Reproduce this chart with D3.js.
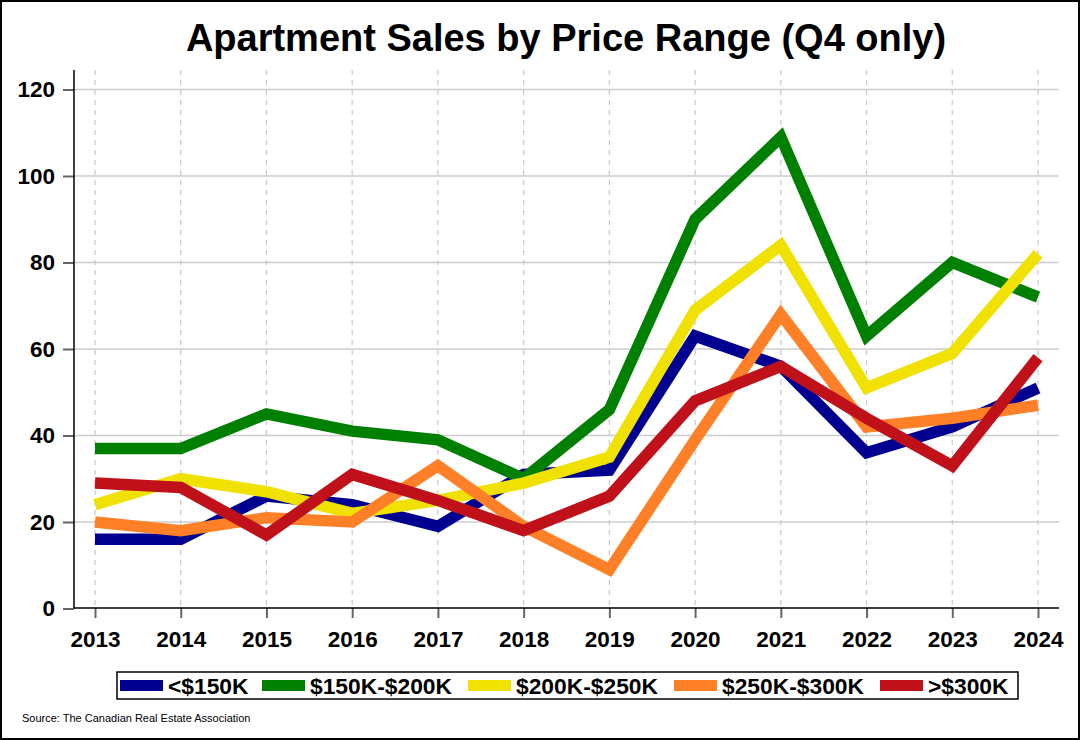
<!DOCTYPE html>
<html>
<head>
<meta charset="utf-8">
<script src="https://cdn.jsdelivr.net/npm/d3@7"></script>
<style>
  html, body { margin: 0; padding: 0; background: #fff; }
  svg { display: block; font-family: "Liberation Sans", Arial, sans-serif; }
</style>
</head>
<body>
<svg id="chart" width="1080" height="740"></svg>
<script>
// ---- Data ----
const years = [2013, 2014, 2015, 2016, 2017, 2018, 2019, 2020, 2021, 2022, 2023, 2024];
const under150 = [16, 16, 26, 24, 19, 31, 32, 63, 56, 36, 42, 51];
const from150to200 = [37, 37, 45, 41, 39, 30, 46, 90, 109, 63, 80, 72];
const from200to250 = [24, 30, 27, 22, 25, 29, 35, 69, 84, 51, 59, 82];
const from250to300 = [20, 18, 21, 20, 33, 19, 9, 39, 68, 42, 44, 47];
const over300 = [29, 28, 17, 31, 25, 18, 26, 48, 56, 44, 33, 58];
const seriesNames = ["<$150K", "$150K-$200K", "$200K-$250K", "$250K-$300K", ">$300K"];
const yTicks = [0, 20, 40, 60, 80, 100, 120];
const titleText = "Apartment Sales by Price Range (Q4 only)";
const sourceText = "Source: The Canadian Real Estate Association";

const seriesValues = [under150, from150to200, from200to250, from250to300, over300];
const colors = ["#000090", "#008000", "#F0E100", "#FF8027", "#C0111A"];

const svg = d3.select("#chart");

// outer border
svg.append("rect").attr("x", 1).attr("y", 1).attr("width", 1078).attr("height", 738)
  .attr("fill", "#fff").attr("stroke", "#000").attr("stroke-width", 2);

// scales
const x = d3.scaleLinear().domain([2013, 2024]).range([95, 1038]);
const y = d3.scaleLinear().domain([0, 120]).range([608.5, 89.5]);
const plotLeft = 74, plotRight = 1059, plotTop = 70, plotBottom = 608;

// horizontal gridlines
svg.append("g").selectAll("line").data(yTicks.filter(d => d > 0)).join("line")
  .attr("x1", plotLeft).attr("x2", plotRight)
  .attr("y1", d => y(d)).attr("y2", d => y(d))
  .attr("stroke", "#cccccc").attr("stroke-width", 1.5);

// vertical dashed gridlines
svg.append("g").selectAll("line").data(years).join("line")
  .attr("x1", d => x(d)).attr("x2", d => x(d))
  .attr("y1", plotTop).attr("y2", plotBottom)
  .attr("stroke", "#c8c8c8").attr("stroke-width", 1.2)
  .attr("stroke-dasharray", "5,5");

// y axis
const yAxis = d3.axisLeft(y).tickValues(yTicks).tickSize(11).tickPadding(8);
const gy = svg.append("g").attr("transform", `translate(${plotLeft},0)`).call(yAxis);
gy.select(".domain").remove();
gy.selectAll(".tick line").attr("stroke", "#666").attr("stroke-width", 2);
gy.selectAll(".tick text").attr("font-size", 22.5).attr("font-weight", "bold")
  .attr("fill", "#000").attr("font-family", "'Liberation Sans', Arial, sans-serif");
svg.append("line").attr("x1", plotLeft).attr("x2", plotLeft)
  .attr("y1", plotTop).attr("y2", plotBottom + 0.5)
  .attr("stroke", "#000").attr("stroke-width", 1.5);

// x axis
const xAxis = d3.axisBottom(x).tickValues(years).tickFormat(d3.format("d")).tickSize(10).tickPadding(13);
const gx = svg.append("g").attr("transform", `translate(0,${plotBottom})`).call(xAxis);
gx.select(".domain").remove();
gx.selectAll(".tick line").attr("stroke", "#666").attr("stroke-width", 2);
gx.selectAll(".tick text").attr("font-size", 22.5).attr("font-weight", "bold")
  .attr("fill", "#000").attr("font-family", "'Liberation Sans', Arial, sans-serif");
svg.append("line").attr("x1", plotLeft).attr("x2", plotRight)
  .attr("y1", plotBottom).attr("y2", plotBottom)
  .attr("stroke", "#000").attr("stroke-width", 1.5);

// lines
const line = d3.line().x((d, i) => x(years[i])).y(d => y(d));
svg.append("g").selectAll("path").data(seriesValues).join("path")
  .attr("d", d => line(d))
  .attr("fill", "none")
  .attr("stroke", (d, i) => colors[i])
  .attr("stroke-width", 11.5)
  .attr("stroke-linejoin", "miter")
  .attr("stroke-miterlimit", 10)
  .attr("stroke-linecap", "butt");

// title
svg.append("text").attr("x", 566).attr("y", 51).attr("text-anchor", "middle")
  .attr("font-size", 38).attr("font-weight", "bold").attr("fill", "#000")
  .text(titleText);

// legend
svg.append("rect").attr("x", 117).attr("y", 672).attr("width", 901).attr("height", 27)
  .attr("fill", "#fff").attr("stroke", "#000").attr("stroke-width", 1.5);
const legendX = [120, 262, 468, 674, 880];
const lg = svg.append("g").selectAll("g").data(seriesNames).join("g")
  .attr("transform", (d, i) => `translate(${legendX[i]},0)`);
lg.append("rect").attr("x", 0).attr("y", 680).attr("width", 43).attr("height", 11)
  .attr("fill", (d, i) => colors[i]);
lg.append("text").attr("x", 48).attr("y", 693.5)
  .attr("font-size", 22.8).attr("font-weight", "bold").attr("fill", "#000")
  .text(d => d);

// source
svg.append("text").attr("x", 22).attr("y", 722).attr("font-size", 11).attr("fill", "#000")
  .text(sourceText);
</script>
</body>
</html>
